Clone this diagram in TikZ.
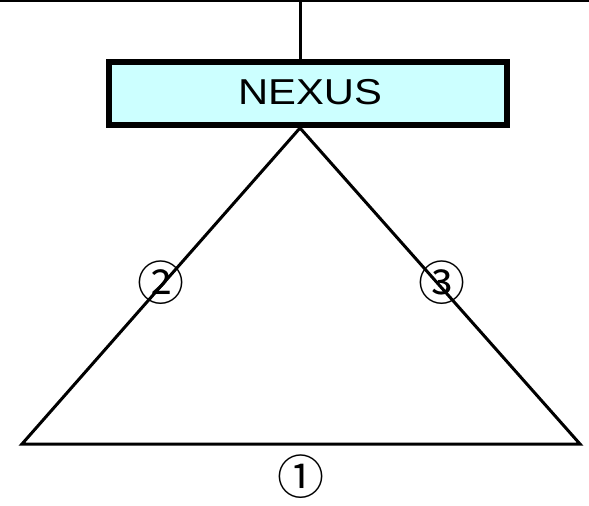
\documentclass[tikz,border=0pt]{standalone}
\usepackage{fontspec}
\setmainfont{Liberation Sans}
\newfontfamily\symfont{Noto Sans CJK SC}
\definecolor{boxcyan}{HTML}{CCFFFF}
\tikzset{
  edge/.style={draw=black, line width=3pt},
  nexusbox/.style={draw=black, fill=boxcyan, line width=6pt, minimum width=398pt, minimum height=63pt, inner sep=0pt, font=\fontsize{36}{36}\selectfont},
  numlabel/.style={inner sep=0pt, font=\symfont\fontsize{47}{47}\selectfont}
}
\begin{document}
\begin{tikzpicture}[x=1pt,y=-1pt]
\useasboundingbox (0,0) rectangle (589,506);
\coordinate (tl) at (0,1);
\coordinate (tr) at (589,1);
\draw[line width=2pt] (tl) -- (tr);
\coordinate (top) at (300,0);
\coordinate (apex) at (300,128);
\coordinate (bl) at (22,444);
\coordinate (br) at (580,444);
\draw[edge] (apex) -- (bl) -- (br) -- cycle;
\node[nexusbox] (nexus) at (308,93.5) {\hspace*{4pt}\raisebox{3pt}{\scalebox{1.16}[1]{NEXUS}}};
\draw[edge] (top) -- (top |- nexus.north);
\node[numlabel] (n2) at (161,283) {②};
\node[numlabel] (n3) at (442,283) {③};
\node[numlabel] (n1) at (301,477) {①};
\end{tikzpicture}
\end{document}
